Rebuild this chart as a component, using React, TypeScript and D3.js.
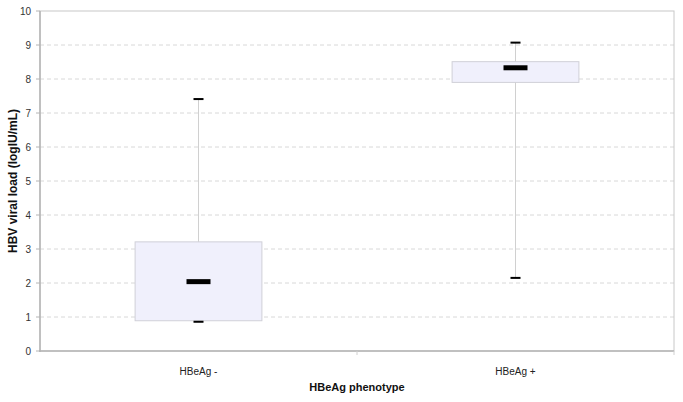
import React from "react";
import * as d3 from "d3";

const categories = ["HBeAg -", "HBeAg +"];
const minValues = [0.86, 2.15];
const q1Values = [0.89, 7.9];
const medianValues = [2.04, 8.33];
const q3Values = [3.21, 8.51];
const maxValues = [7.41, 9.07];
const yTicks = [0, 1, 2, 3, 4, 5, 6, 7, 8, 9, 10];

const W = 683;
const H = 402;
const M = { left: 40, right: 9, top: 11, bottom: 51 };

export default function App() {
  const x = d3
    .scaleBand<string>()
    .domain(categories)
    .range([M.left, W - M.right])
    .paddingInner(0.6)
    .paddingOuter(0.3);
  const y = d3.scaleLinear().domain([0, 10]).range([H - M.bottom, M.top]);
  const font = "'Liberation Sans', Arial, sans-serif";
  const bw = x.bandwidth();
  const step = (W - M.right - M.left) / categories.length;

  return (
    <svg width={W} height={H} style={{ position: "absolute", left: 0, top: 0, background: "#fff" }}>
      <rect x={0} y={0} width={W} height={H} fill="#fff" />
      {yTicks.slice(1, -1).map((t) => (
        <line key={"g" + t} x1={M.left} x2={W - M.right} y1={y(t)} y2={y(t)} stroke="#d8d8d8" strokeDasharray="4,3" />
      ))}
      <rect x={M.left} y={M.top} width={W - M.right - M.left} height={H - M.bottom - M.top} fill="none" stroke="#c8c8c8" />
      <line x1={M.left} x2={M.left} y1={M.top} y2={H - M.bottom + 1} stroke="#b4b4b4" strokeWidth={1.5} />
      <line x1={M.left - 1} x2={W - M.right} y1={H - M.bottom} y2={H - M.bottom} stroke="#b4b4b4" strokeWidth={1.5} />
      {yTicks.map((t) => (
        <g key={"t" + t}>
          <line x1={M.left - 4} x2={M.left} y1={y(t)} y2={y(t)} stroke="#b4b4b4" />
          <text x={M.left - 9} y={y(t)} dy="0.35em" textAnchor="end" fontSize={10} fontFamily={font} fill="#333">
            {t}
          </text>
        </g>
      ))}
      {categories.map((c, i) => (
        <line key={"xt" + i} x1={M.left + step * (i + 1)} x2={M.left + step * (i + 1)} y1={H - M.bottom} y2={H - M.bottom + 4} stroke="#d0d0d0" />
      ))}
      {categories.map((c, i) => {
        const cx = (x(c) as number) + bw / 2;
        return (
          <g key={c}>
            <line x1={cx} x2={cx} y1={y(maxValues[i])} y2={y(minValues[i])} stroke="#d0d0d0" />
            <rect
              x={x(c)}
              y={y(q3Values[i])}
              width={bw}
              height={y(q1Values[i]) - y(q3Values[i])}
              fill="#f0f0fc"
              stroke="#d0d0d8"
            />
            <rect x={cx - 12} y={y(medianValues[i]) - 2.5} width={24} height={5} fill="#000" />
            <rect x={cx - 5} y={y(maxValues[i]) - 1} width={10} height={2} fill="#000" />
            <rect x={cx - 5} y={y(minValues[i]) - 1} width={10} height={2} fill="#000" />
            <text x={cx} y={H - M.bottom + 24} textAnchor="middle" fontSize={10} fontFamily={font} fill="#222">
              {c}
            </text>
          </g>
        );
      })}
      <text x={(M.left + W - M.right) / 2} y={391} textAnchor="middle" fontSize={11} fontWeight="bold" fontFamily={font} fill="#111">
        HBeAg phenotype
      </text>
      <text
        transform={`translate(17,${(M.top + H - M.bottom) / 2}) rotate(-90)`}
        textAnchor="middle"
        fontSize={12}
        fontWeight="bold"
        fontFamily={font}
        fill="#111"
      >
        HBV viral load (logIU/mL)
      </text>
    </svg>
  );
}
